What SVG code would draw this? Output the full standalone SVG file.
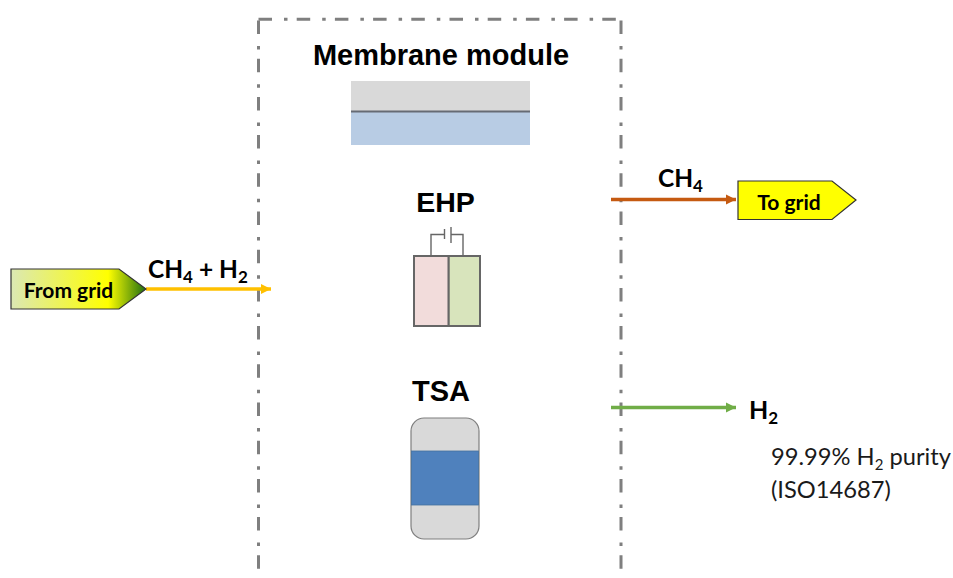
<svg xmlns="http://www.w3.org/2000/svg" width="953" height="578" viewBox="0 0 953 578">
<style>
.b{font-family:"Liberation Sans",Arial,sans-serif;font-weight:bold;fill:#000}
.c{font-family:Lato,"Noto Sans",sans-serif;font-weight:bold;fill:#000}
.l{font-family:Lato,"Noto Sans",sans-serif;fill:#1a1a1a}
.frame{fill:none;stroke:#7f7f7f;stroke-width:3;stroke-dasharray:13.500 12 3.500 9.200}
.conn{fill:none;stroke-width:3.300}
</style>
<defs>
<linearGradient id="g" x1="0" x2="1" y1="0" y2="0">
<stop offset="0" stop-color="#dbe8b4"/>
<stop offset="0.72" stop-color="#ffff00"/>
<stop offset="1" stop-color="#1e6e10"/>
</linearGradient>
<marker id="ao" markerUnits="userSpaceOnUse" markerWidth="12" markerHeight="12" refX="10" refY="6" orient="auto"><path d="M0 1L10 6L0 11z" fill="#ffc000"/></marker>
<marker id="ar" markerUnits="userSpaceOnUse" markerWidth="12" markerHeight="12" refX="10" refY="6" orient="auto"><path d="M0 1L10 6L0 11z" fill="#c55a11"/></marker>
<marker id="ag" markerUnits="userSpaceOnUse" markerWidth="12" markerHeight="12" refX="10" refY="6" orient="auto"><path d="M0 1L10 6L0 11z" fill="#70ad47"/></marker>
</defs>
<g id="boundary">
<path class="frame" d="M258.500 19.300H621"/>
<path class="frame" d="M258.500 20.500V571"/>
<path class="frame" d="M621 20.500V571"/>
</g>
<g id="membrane-module">
<rect x="351" y="81" width="179" height="31" fill="#d9d9d9"/>
<rect x="351" y="112" width="179" height="33" fill="#b8cce4"/>
<line x1="351" y1="111.500" x2="530" y2="111.500" stroke="#666b74" stroke-width="2.200"/>
<text class="b" x="441" y="65" font-size="29" text-anchor="middle">Membrane module</text>
</g>
<g id="ehp">
<rect x="414" y="256" width="34.700" height="70" fill="#f2dcdb" stroke="#666" stroke-width="2"/>
<rect x="448.700" y="256" width="31.300" height="70" fill="#d8e4bc" stroke="#666" stroke-width="2"/>
<path d="M431 255V234.500H444.500M444.500 229V239M451 227V243M451 234.500H463V255" fill="none" stroke="#666" stroke-width="1.400"/>
<text class="b" x="445.500" y="212" font-size="28.500" text-anchor="middle">EHP</text>
</g>
<g id="tsa">
<rect x="411" y="418" width="68" height="121" rx="13" fill="#d9d9d9" stroke="#7f7f7f" stroke-width="1.200"/>
<rect x="411.500" y="451" width="67" height="54" fill="#4f81bd" stroke="#44719f" stroke-width="0.800"/>
<text class="b" x="441" y="401" font-size="29" text-anchor="middle">TSA</text>
</g>
<g id="connectors">
<line class="conn" x1="146" y1="289" x2="271" y2="289" stroke="#ffc000" marker-end="url(#ao)"/>
<line class="conn" x1="611" y1="199.500" x2="736" y2="199.500" stroke="#c55a11" marker-end="url(#ar)"/>
<line class="conn" x1="611" y1="407.500" x2="736" y2="407.500" stroke="#70ad47" marker-end="url(#ag)"/>
</g>
<g id="from-grid">
<path d="M11 269H119L146 289L119 309H11z" fill="url(#g)" stroke="#333" stroke-width="1.200"/>
<text class="c" x="68.500" y="298" font-size="21" text-anchor="middle">From grid</text>
</g>
<g id="to-grid">
<path d="M738 181H832L856 200L832 219.500H738z" fill="#ffff00" stroke="#333" stroke-width="1.200"/>
<text class="c" x="789" y="210" font-size="21" text-anchor="middle">To grid</text>
</g>
<g id="labels">
<text class="c" x="148" y="278" font-size="24.500">CH<tspan font-size="17" dy="5">4</tspan><tspan dy="-5"> + H</tspan><tspan font-size="17" dy="5">2</tspan></text>
<text class="c" x="658" y="187" font-size="24.500">CH<tspan font-size="17" dy="5">4</tspan></text>
<text class="c" x="749" y="419" font-size="25">H<tspan font-size="17" dy="5">2</tspan></text>
<text class="l" x="771" y="465" font-size="23.700">99.99% H<tspan font-size="15" dy="5">2</tspan><tspan dy="-5"> purity</tspan></text>
<text class="l" x="771" y="498" font-size="23.700">(ISO14687)</text>
</g>
</svg>
